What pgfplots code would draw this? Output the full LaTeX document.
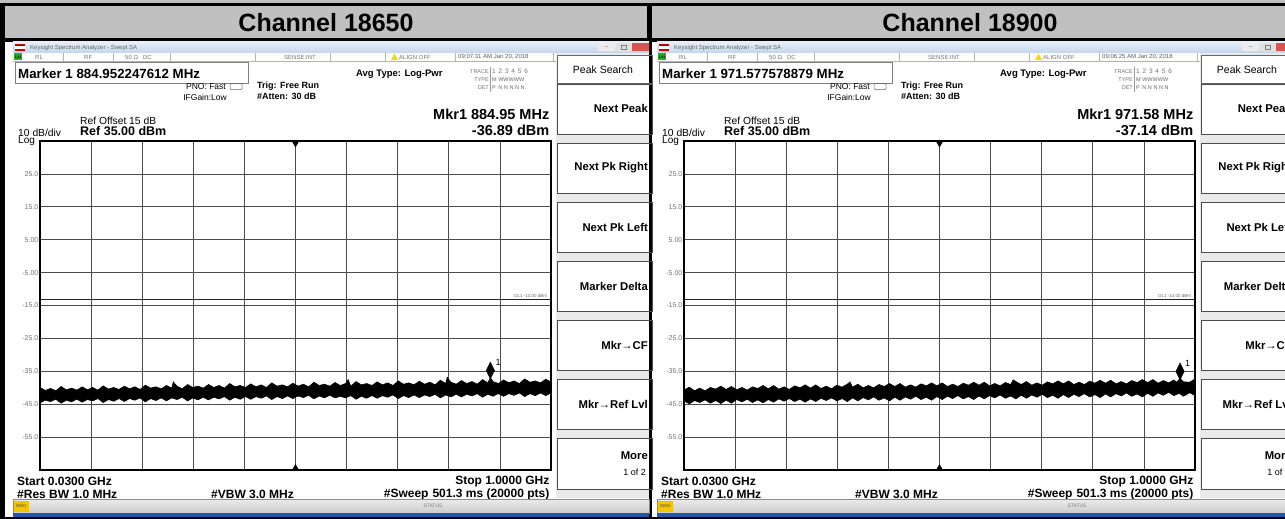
\documentclass[border=0pt]{standalone}
\usepackage{pgfplots}
\pgfplotsset{compat=1.18}
\usepackage{pgfplotstable}
\usepackage{fontspec}
\setmainfont{Liberation Sans}
\newcommand\fs[1]{\fontsize{#1pt}{#1pt}\selectfont}
\definecolor{titlegray}{HTML}{C0C0C0}
\definecolor{winblueA}{HTML}{E6EEF8}
\definecolor{winblueB}{HTML}{C3D5EC}
\definecolor{keygray}{HTML}{E9E9E9}
\definecolor{msgyellow}{HTML}{F2C500}
\definecolor{taskblue}{HTML}{2356A8}
\definecolor{closered}{HTML}{D9534F}
\definecolor{lxigreen}{HTML}{22B022}

% noise band outline, Channel 18650: upper edge left to right, then lower edge right to left
\pgfplotstableread{
x y
30 -39.9
40 -40.8
50 -40.2
60 -40.9
70 -39.6
80 -40.6
90 -40.1
100 -40.7
110 -39.7
120 -40.6
130 -39.9
140 -40.7
150 -39.4
160 -40.4
170 -39.9
180 -40.5
190 -39.5
200 -40.3
210 -39.7
220 -40.5
230 -39.2
240 -40.1
250 -39.7
260 -40.3
270 -39.3
280 -40.1
283 -38.2
290 -39.5
300 -40.3
310 -39.0
320 -39.9
330 -39.5
340 -40.1
350 -39.0
360 -39.9
370 -39.3
380 -40.1
390 -38.7
400 -39.7
410 -39.3
420 -39.9
430 -38.8
440 -39.7
450 -39.1
460 -39.9
470 -38.5
480 -39.5
490 -39.1
500 -39.7
510 -38.6
520 -39.5
530 -38.9
540 -39.7
550 -38.3
560 -39.3
570 -38.9
580 -39.5
590 -38.4
600 -39.3
610 -38.7
615 -37.5
620 -39.5
630 -38.1
640 -39.1
650 -38.7
660 -39.3
670 -38.2
680 -39.1
690 -38.5
700 -39.3
710 -37.9
720 -38.9
730 -38.5
740 -39.1
750 -38.0
760 -38.9
770 -38.3
780 -39.1
790 -37.7
800 -38.7
803 -36.8
810 -38.3
820 -38.9
830 -37.8
840 -38.7
850 -38.1
860 -38.9
870 -37.5
880 -38.5
885 -36.9
890 -38.1
900 -38.7
910 -37.6
920 -38.5
930 -37.9
940 -38.7
950 -37.3
960 -38.3
970 -37.9
980 -38.5
990 -37.4
1000 -38.2
1000 -41.6
990 -42.4
980 -41.6
970 -42.4
960 -41.8
950 -42.7
940 -41.6
930 -42.3
920 -41.8
910 -42.6
900 -41.8
890 -42.6
880 -42.0
870 -42.9
860 -41.8
850 -42.5
840 -42.0
830 -42.8
820 -42.0
810 -42.8
800 -42.2
790 -43.1
780 -42.0
770 -42.7
760 -42.2
750 -43.0
740 -42.2
730 -43.0
720 -42.4
710 -43.3
700 -42.2
690 -42.9
680 -42.4
670 -43.2
660 -42.4
650 -43.2
640 -42.6
630 -43.5
620 -42.4
610 -43.1
600 -42.6
590 -43.1
580 -42.3
570 -43.1
560 -42.5
550 -43.4
540 -42.3
530 -43.0
520 -42.5
510 -43.3
500 -42.5
490 -43.3
480 -42.7
470 -43.6
460 -42.5
450 -43.2
440 -42.7
430 -43.5
420 -42.7
410 -43.5
400 -42.9
390 -43.8
380 -42.7
370 -43.4
360 -42.9
350 -43.7
340 -42.9
330 -43.7
320 -43.1
310 -44.0
300 -42.9
290 -43.6
280 -43.1
270 -44.0
260 -43.1
250 -43.9
240 -43.3
230 -44.3
220 -43.1
210 -43.8
200 -43.3
190 -44.2
180 -43.3
170 -44.1
160 -43.6
150 -44.5
140 -43.3
130 -44.0
120 -43.6
110 -44.4
100 -43.5
90 -44.3
80 -43.8
70 -44.7
60 -43.5
50 -44.2
40 -43.8
30 -44.6
}\traceA

% Channel 18900
\pgfplotstableread{
x y
30 -40.7
40 -39.8
50 -40.9
60 -40.1
70 -40.9
80 -39.9
90 -40.4
100 -39.5
110 -40.5
120 -39.6
130 -40.6
140 -39.9
150 -40.7
160 -39.7
170 -40.2
180 -39.3
190 -40.3
200 -39.3
210 -40.4
220 -39.7
230 -40.5
240 -39.4
250 -40.0
260 -39.1
270 -40.1
280 -39.1
290 -40.2
300 -39.5
310 -40.3
320 -39.2
330 -39.8
340 -38.9
345 -38.2
350 -39.8
360 -38.9
370 -40.0
380 -39.3
390 -40.0
400 -39.0
410 -39.6
420 -38.7
430 -39.6
440 -38.7
450 -39.8
460 -39.1
470 -39.8
480 -38.8
490 -39.4
500 -38.5
510 -39.4
520 -38.5
530 -39.6
540 -38.9
550 -39.6
560 -38.6
570 -39.2
580 -38.3
590 -39.2
600 -38.3
610 -39.4
620 -38.7
630 -39.4
640 -38.4
650 -39.0
655 -37.6
660 -38.1
670 -39.0
680 -38.1
690 -39.2
700 -38.5
710 -39.2
720 -38.2
730 -38.8
740 -37.9
750 -38.8
760 -37.9
770 -39.0
780 -38.3
790 -39.0
800 -38.0
810 -38.6
820 -37.7
830 -38.6
840 -37.7
850 -38.8
860 -38.1
870 -38.8
880 -37.8
890 -38.4
900 -37.5
910 -38.4
920 -37.5
930 -38.6
940 -37.8
950 -38.5
960 -37.6
965 -38.3
972 -37.1
978 -38.2
990 -38.3
1000 -37.3
1000 -42.4
990 -41.5
978 -42.6
970 -41.7
960 -42.4
950 -41.4
940 -42.3
930 -41.6
920 -42.6
910 -41.7
900 -42.8
890 -41.9
880 -42.6
870 -41.6
860 -42.5
850 -41.8
840 -42.8
830 -41.9
820 -43.0
810 -42.1
800 -42.8
790 -41.8
780 -42.7
770 -42.0
760 -43.0
750 -42.1
740 -43.2
730 -42.3
720 -43.0
710 -42.0
700 -42.9
690 -42.2
680 -43.2
670 -42.3
660 -43.4
650 -42.5
640 -43.2
630 -42.2
620 -43.1
610 -42.4
600 -43.4
590 -42.5
580 -43.6
570 -42.7
560 -43.4
550 -42.4
540 -43.3
530 -42.6
520 -43.6
510 -42.7
500 -43.8
490 -42.9
480 -43.6
470 -42.6
460 -43.5
450 -42.8
440 -43.8
430 -42.9
420 -44.0
410 -43.1
400 -43.8
390 -42.8
380 -43.7
370 -43.0
360 -44.0
350 -43.1
340 -44.2
330 -43.3
320 -44.0
310 -43.1
300 -43.9
290 -43.2
280 -44.2
270 -43.4
260 -44.4
250 -43.5
240 -44.2
230 -43.3
220 -44.1
210 -43.4
200 -44.4
190 -43.6
180 -44.6
170 -43.7
160 -44.5
150 -43.5
140 -44.3
130 -43.6
120 -44.7
110 -43.8
100 -44.8
90 -43.9
80 -44.7
70 -43.7
60 -44.5
50 -43.9
40 -44.9
30 -44.0
}\traceB

\tikzset{t/.style={inner sep=0pt, anchor=west},
         tr/.style={inner sep=0pt, anchor=east},
         tc/.style={inner sep=0pt}}

% #1 offset, #2 title, #3 marker long, #4 mkr freq, #5 mkr level, #6 time, #7 table, #8 mx, #9 my
\newcommand\panel[9]{%
\begin{scope}[x=1pt, y=-1pt, shift={(#1,0)}]
  \node[tc, font=\fs{25}\bfseries] at (326,22.5) {#2};
  \shade[top color=winblueA, bottom color=winblueB] (13,42) rectangle (649,53);
  \fill[red!75!black] (15,44) rectangle (25,46.5);
  \fill[white] (15,46.5) rectangle (25,49);
  \fill[red!80!black] (15,49) rectangle (25,51);
  \node[t, font=\fs{6}, text=black!60] at (30,47.5) {Keysight Spectrum Analyzer - Swept SA};
  \fill[black!8] (598,43.5) rectangle (615,51.5);
  \node[tc, font=\fs{6}, text=black!60] at (606.5,47.5) {--};
  \fill[black!12] (616,43.5) rectangle (631,51.5);
  \draw[black!50, line width=0.4pt] (621,45.5) rectangle (626,49.5);
  \fill[closered] (632,43.5) rectangle (649,51.5);
  \fill[white] (13,53) rectangle (556,61.5);
  \draw[black!30, line width=0.4pt] (13,61.5) -- (556,61.5);
  \foreach \xx in {63,113,170,255,330,385,455,553}{\draw[black!30, line width=0.4pt] (\xx,53) -- (\xx,61.5);}
  \fill[lxigreen] (14,53.5) rectangle (22,60.5);
  \node[tc, font=\fs{3.5}\bfseries] at (18,57) {LXI};
  \node[t, font=\fs{6}, text=black!55] at (35,57) {RL};
  \node[t, font=\fs{6}, text=black!55] at (84,57) {RF};
  \node[t, font=\fs{6}, text=black!55] at (125,57) {50 Ω\hspace{5pt}DC};
  \node[t, font=\fs{6}, text=black!55] at (284,57) {SENSE:INT};
  \fill[yellow!75!orange] (391,60) -- (394.5,53.5) -- (398,60) -- cycle;
  \node[t, font=\fs{6}, text=black!55] at (399,57) {ALIGN OFF};
  \node[t, font=\fs{6}, text=black!65] at (458,57) {#6};
  \draw[black!50, line width=0.6pt] (15,62.5) rectangle (248,83.5);
  \node[t, font=\fs{13.3}\bfseries] at (18,74) {#3};
  \node[tr, font=\fs{8.5}] at (226,86.5) {PNO: Fast};
  \node[tr, font=\fs{8.5}] at (227,97) {IFGain:Low};
  \draw[black!60, line width=0.5pt, rounded corners=1pt] (230,83.5) rectangle (242,89.5);
  \node[t, font=\fs{9}\bfseries] at (257,86) {Trig: Free Run};
  \node[t, font=\fs{9}\bfseries] at (257,96.5) {\#Atten: 30 dB};
  \node[t, font=\fs{9.5}\bfseries] at (356,74.5) {Avg Type: Log-Pwr};
  \node[tr, font=\fs{5.5}, text=black!55] at (489,71.5) {TRACE};
  \node[tr, font=\fs{5.5}, text=black!55] at (489,80) {TYPE};
  \node[tr, font=\fs{5.5}, text=black!55] at (489,88) {DET};
  \draw[black!40, line width=0.4pt] (490,67) -- (490,92);
  \node[t, font=\fs{6.5}, text=black!55] at (492,71.5) {1\hspace{2.8pt}2\hspace{2.8pt}3\hspace{2.8pt}4\hspace{2.8pt}5\hspace{2.8pt}6};
  \node[t, font=\fs{5.5}, text=black!60] at (492,80) {M\hspace{1.5pt}WWWWW};
  \node[t, font=\fs{5.5}, text=black!60] at (492,88) {P\hspace{2.5pt}N\hspace{1.6pt}N\hspace{1.6pt}N\hspace{1.6pt}N\hspace{1.6pt}N};
  \node[tr, font=\fs{14.5}\bfseries] at (549.5,114) {Mkr1 #4 MHz};
  \node[tr, font=\fs{14.5}\bfseries] at (549.5,130) {#5 dBm};
  \node[t, font=\fs{10.3}] at (80,120.5) {Ref Offset 15 dB};
  \node[t, font=\fs{12.5}\bfseries] at (80,131) {Ref 35.00 dBm};
  \node[t, font=\fs{10.3}] at (18,132.5) {10 dB/div};
  \node[t, font=\fs{10}] at (18,141.5) {Log};
  \node[t, font=\fs{12}\bfseries] at (17,481.5) {Start 0.0300 GHz};
  \node[t, font=\fs{12}\bfseries] at (17,494) {\#Res BW 1.0 MHz};
  \node[t, font=\fs{12}\bfseries] at (211,494) {\#VBW 3.0 MHz};
  \node[tr, font=\fs{12}\bfseries] at (549.5,481.5) {Stop 1.0000 GHz};
  \node[tr, font=\fs{12}\bfseries] at (549.5,494) {\#Sweep\hspace{4pt}501.3 ms (20000 pts)};
  \fill[keygray] (556,53) rectangle (649,498);
  \fill[white] (557,55) rectangle (649,83);
  \draw[black!60, line width=0.6pt] (557,55) rectangle (652,83);
  \node[tc, font=\fs{10.5}] at (603,70) {Peak Search};
  \foreach \ya/\yb in {84/134, 143/193, 202/252, 261/311, 320/370, 379/429, 438/489}{
    \fill[white] (557,\ya) rectangle (649,\yb);
    \draw[black!70, line width=0.7pt] (557,\ya) rectangle (652,\yb);
  }
  \node[tr, font=\fs{11.3}\bfseries] at (648,108.5) {Next Peak};
  \node[tr, font=\fs{11.3}\bfseries] at (648,168) {Next Pk Right};
  \node[tr, font=\fs{11.3}\bfseries] at (648,227) {Next Pk Left};
  \node[tr, font=\fs{11.3}\bfseries] at (648,286) {Marker Delta};
  \node[tr, font=\fs{11.3}\bfseries] at (648,345) {Mkr→CF};
  \node[tr, font=\fs{11.3}\bfseries] at (648,404) {Mkr→Ref Lvl};
  \node[tr, font=\fs{11.3}\bfseries] at (648,456) {More};
  \node[tr, font=\fs{9}] at (646,472) {1 of 2};
  \shade[top color=black!8, bottom color=black!20] (13,499) rectangle (649,513);
  \draw[black!45, line width=0.5pt] (13,499) rectangle (649,513);
  \fill[msgyellow] (14,500.5) rectangle (29,511.5);
  \node[tc, font=\fs{4.5}, text=black!70] at (21.5,506) {MSG};
  \node[tc, font=\fs{5}, text=black!50] at (433,506) {STATUS};
  \fill[taskblue] (13,513) rectangle (649,516.5);
\end{scope}
\begin{axis}[at={(#1pt+40pt,-470pt)}, anchor=south west,
  scale only axis, width=511pt, height=329pt,
  xmin=30, xmax=1000, ymin=-65, ymax=35,
  xtick={30,127,...,1000}, xticklabels={},
  ytick={-55,-45,...,25},
  yticklabels={-55.0,-45.0,-35.0,-25.0,-15.0,-5.00,5.00,15.0,25.0},
  yticklabel style={font=\fs{7}, text=black!55, inner sep=1.5pt},
  major tick length=0pt,
  grid=major, major grid style={black!70, line width=0.7pt},
  axis line style={black, line width=1.3pt},
  clip=true]
  \addplot[black!85, line width=0.6pt] coordinates {(30,-13) (1000,-13)};
  \addplot[black, fill=black, line width=0.5pt] table[x=x, y=y] {#7};
  \addplot[only marks, mark=diamond*, mark size=5.6pt,
     mark options={fill=black, draw=black, yshift=7pt, yscale=1.5}] coordinates {(#8,#9)};
  \node[anchor=south west, font=\fs{9}, inner sep=0pt, xshift=5pt, yshift=12pt] at (axis cs:#8,#9) {1};
  \node[anchor=south east, font=\fs{4.5}, text=black!60, inner sep=1pt] at (axis cs:995,-13) {DL1 -13.00 dBm};
  \addplot[only marks, mark=triangle*, mark size=3.5pt, mark options={yshift=-2.5pt, rotate=180}, clip mode=individual] coordinates {(515,35)};
  \addplot[only marks, mark=triangle*, mark size=3pt, mark options={yshift=2.5pt}, clip mode=individual] coordinates {(515,-65)};
\end{axis}
}

\begin{document}
\begin{tikzpicture}
\begin{scope}[x=1pt, y=-1pt]
\fill[black] (0,0) rectangle (1285,519);
\fill[titlegray] (0,0) rectangle (1285,3.5);
\fill[titlegray] (5,6.5) rectangle (647,38);
\fill[titlegray] (652,6.5) rectangle (1290,38);
\fill[white] (5,42) rectangle (649,517);
\fill[white] (652,42) rectangle (1290,517);
\end{scope}
\panel{0}{Channel 18650}{Marker 1 884.952247612 MHz}{884.95}{-36.89}{09:07:31 AM Jan 20, 2018}{\traceA}{884.95}{-36.89}
\panel{644}{Channel 18900}{Marker 1 971.577578879 MHz}{971.58}{-37.14}{09:06:25 AM Jan 20, 2018}{\traceB}{971.58}{-37.14}
\pgfresetboundingbox
\useasboundingbox (0pt,0pt) rectangle (1285pt,-519pt);
\end{tikzpicture}
\end{document}
